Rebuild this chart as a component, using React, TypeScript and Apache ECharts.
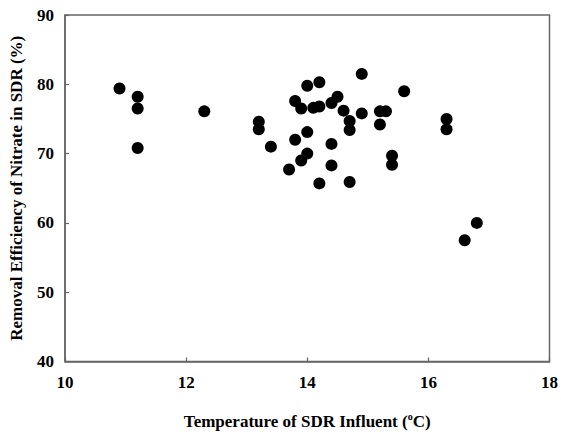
import React, { useEffect, useRef } from "react";
import * as echarts from "echarts";

const temperature: number[] = [
  10.9, 11.2, 11.2, 11.2, 12.3, 13.2, 13.2, 13.4, 13.7, 13.8,
  13.8, 13.9, 13.9, 14.0, 14.0, 14.0, 14.1, 14.2, 14.2, 14.2,
  14.4, 14.5, 14.6, 14.7, 14.7, 14.9, 14.9, 15.2, 15.3, 15.2,
  15.6, 16.3, 16.3, 14.4, 14.4, 15.4, 15.4, 14.7, 16.8, 16.6,
];
const efficiency: number[] = [
  79.4, 78.2, 76.5, 70.8, 76.1, 74.6, 73.5, 71.0, 67.7, 72.0,
  77.6, 76.5, 69.0, 70.0, 73.1, 79.8, 76.6, 76.8, 80.3, 65.7,
  77.3, 78.2, 76.2, 74.7, 73.4, 81.5, 75.8, 76.1, 76.1, 74.2,
  79.0, 75.0, 73.5, 71.4, 68.3, 69.7, 68.4, 65.9, 60.0, 57.5,
];

const xTitle = "Temperature of SDR Influent (";
const yTitle = "Removal Efficiency of Nitrate in SDR (%)";

export default function App() {
  const ref = useRef<HTMLDivElement>(null);
  useEffect(() => {
    if (!ref.current) return;
    const chart = echarts.init(ref.current, undefined, { renderer: "svg" });
    const font = "Liberation Serif";
    const axisColor = "#666";
    const txt = "#000";
    chart.setOption({
      animation: false,
      backgroundColor: "#fff",
      grid: {
        left: 65,
        right: 8,
        top: 15,
        bottom: 68,
        show: true,
        borderColor: axisColor,
        borderWidth: 1.5,
        backgroundColor: "transparent",
      },
      xAxis: {
        type: "value",
        min: 10,
        max: 18,
        interval: 2,
        name: xTitle + "{sup|o}C)",
        nameLocation: "middle",
        nameGap: 50,
        nameTextStyle: {
          fontFamily: font,
          fontWeight: 700,
          fontSize: 17,
          color: txt,
          rich: {
            sup: {
              fontFamily: font,
              fontWeight: 700,
              fontSize: 10,
              color: txt,
              padding: [0, 0, 10, 0],
            },
          },
        },
        axisLine: { show: true, lineStyle: { color: axisColor, width: 1.5 } },
        axisTick: { show: true, inside: true, length: 4, lineStyle: { color: axisColor, width: 1.2 } },
        axisLabel: {
          fontFamily: font,
          fontWeight: 700,
          fontSize: 17,
          color: txt,
          margin: 12,
        },
        splitLine: { show: false },
      },
      yAxis: {
        type: "value",
        min: 40,
        max: 90,
        interval: 10,
        name: yTitle,
        nameLocation: "middle",
        nameRotate: 90,
        nameGap: 40,
        nameTextStyle: {
          fontFamily: font,
          fontWeight: 700,
          fontSize: 17,
          color: txt,
        },
        axisLine: { show: true, lineStyle: { color: axisColor, width: 1.5 } },
        axisTick: { show: true, inside: true, length: 4, lineStyle: { color: axisColor, width: 1.2 } },
        axisLabel: {
          fontFamily: font,
          fontWeight: 700,
          fontSize: 17,
          color: txt,
          margin: 11,
        },
        splitLine: { show: false },
      },
      series: [
        {
          type: "scatter",
          symbol: "circle",
          symbolSize: 12,
          itemStyle: { color: "#000", opacity: 1 },
          data: temperature.map((t, i) => [t, efficiency[i]]),
        },
      ],
    });
    return () => chart.dispose();
  }, []);
  return (
    <div
      ref={ref}
      style={{ position: "fixed", left: 0, top: 0, width: 561, height: 435, background: "#fff" }}
    />
  );
}
